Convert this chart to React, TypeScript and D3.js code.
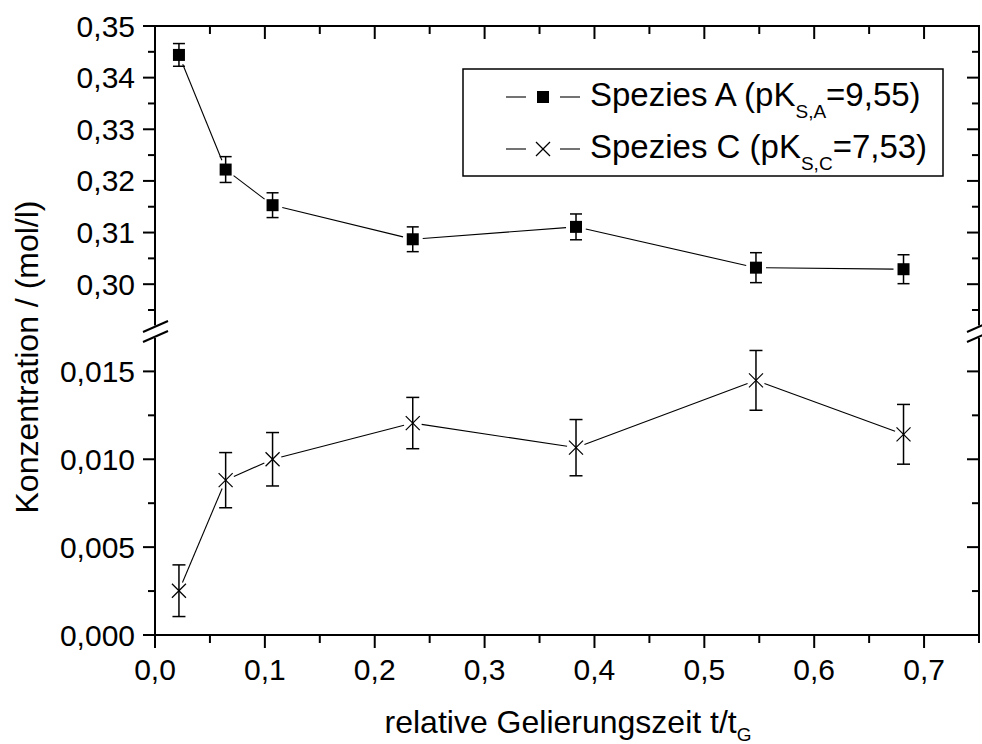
import React from "react";
import * as d3 from "d3";

const xVals = [0.0218, 0.0643, 0.107, 0.2346, 0.3832, 0.547, 0.6813];
const speciesA = [0.3444, 0.3222, 0.3153, 0.3087, 0.3111, 0.3032, 0.3029];
const errA = [0.0022, 0.0025, 0.0024, 0.0024, 0.0025, 0.0029, 0.0028];
const speciesC = [0.00252, 0.00881, 0.01, 0.01206, 0.01066, 0.01449, 0.01142];
const errC = [0.00147, 0.00157, 0.00152, 0.00146, 0.0016, 0.0017, 0.0017];

const xTicks = [0, 0.1, 0.2, 0.3, 0.4, 0.5, 0.6, 0.7];
const xMinor = [0.05, 0.15, 0.25, 0.35, 0.45, 0.55, 0.65, 0.75];
const yTopTicks = [0.3, 0.31, 0.32, 0.33, 0.34, 0.35];
const yTopMinor = [0.295, 0.305, 0.315, 0.325, 0.335, 0.345];
const yBotTicks = [0, 0.005, 0.01, 0.015];
const yBotMinor = [0.0025, 0.0075, 0.0125];

const FONT = "'Liberation Sans', Arial, sans-serif";

const L = 155, R = 979, T = 26, B = 635;
const TOP_LOW = 325.5, BOT_HIGH = 338;

export default function App() {
  const x = d3.scaleLinear().domain([0, 0.75]).range([L, R]);
  const yTop = d3.scaleLinear().domain([0.292, 0.35]).range([TOP_LOW, T]);
  const yBot = d3.scaleLinear().domain([0, 0.0169]).range([B, BOT_HIGH]);

  const fmt = (f: string) => (v: number) => d3.format(f)(v).replace(".", ",");

  const ptsA = xVals.map((v, i) => [x(v), yTop(speciesA[i])]);
  const ptsC = xVals.map((v, i) => [x(v), yBot(speciesC[i])]);

  const gapSegs = (pts: number[][], gap: number) =>
    pts.slice(1).map((p, i) => {
      const q = pts[i];
      const dx = p[0] - q[0], dy = p[1] - q[1];
      const len = Math.hypot(dx, dy);
      const ux = dx / len, uy = dy / len;
      return [q[0] + ux * gap, q[1] + uy * gap, p[0] - ux * gap, p[1] - uy * gap];
    });

  const segsA = gapSegs(ptsA, 10);
  const segsC = gapSegs(ptsC, 9);

  const axisStroke = 2;

  const breakMarks = (ax: number) => (
    <g stroke="#000" strokeWidth={2}>
      <line x1={ax - 12} y1={332} x2={ax + 13} y2={321} />
      <line x1={ax - 12} y1={342} x2={ax + 13} y2={331} />
    </g>
  );

  const xMarker = (cx: number, cy: number, s: number, key?: any) => (
    <g key={key} stroke="#000" strokeWidth={1.2}>
      <line x1={cx - s} y1={cy - s} x2={cx + s} y2={cy + s} />
      <line x1={cx - s} y1={cy + s} x2={cx + s} y2={cy - s} />
    </g>
  );

  return (
    <svg width={982} height={744} style={{ position: "absolute", left: 0, top: 0, background: "#fff" }} fontFamily={FONT}>
      <rect x={0} y={0} width={982} height={744} fill="#fff" />

      {/* axes frame */}
      <g stroke="#000" strokeWidth={axisStroke} fill="none">
        <line x1={L - 1} y1={T} x2={R + 1} y2={T} />
        <line x1={L - 1} y1={B} x2={R + 1} y2={B} />
        <line x1={L} y1={T} x2={L} y2={TOP_LOW} />
        <line x1={L} y1={BOT_HIGH} x2={L} y2={B} />
        <line x1={R} y1={T} x2={R} y2={TOP_LOW} />
        <line x1={R} y1={BOT_HIGH} x2={R} y2={B} />
      </g>
      {breakMarks(L)}
      {breakMarks(R)}

      {/* ticks */}
      <g stroke="#000" strokeWidth={2}>
        {xTicks.map((v) => (
          <g key={"xt" + v}>
            <line x1={x(v)} y1={B} x2={x(v)} y2={B + 13} />
            <line x1={x(v)} y1={T} x2={x(v)} y2={T + 13} />
          </g>
        ))}
        {xMinor.map((v) => (
          <g key={"xm" + v}>
            <line x1={x(v)} y1={B} x2={x(v)} y2={B + 8} />
            <line x1={x(v)} y1={T} x2={x(v)} y2={T + 8} />
          </g>
        ))}
        {yTopTicks.map((v) => (
          <g key={"yt" + v}>
            <line x1={L - 12} y1={yTop(v)} x2={L} y2={yTop(v)} />
            <line x1={R - 12} y1={yTop(v)} x2={R} y2={yTop(v)} />
          </g>
        ))}
        {yTopMinor.map((v) => (
          <g key={"ytm" + v}>
            <line x1={L - 7} y1={yTop(v)} x2={L} y2={yTop(v)} />
            <line x1={R - 7} y1={yTop(v)} x2={R} y2={yTop(v)} />
          </g>
        ))}
        {yBotTicks.map((v) => (
          <g key={"yb" + v}>
            <line x1={L - 12} y1={yBot(v)} x2={L} y2={yBot(v)} />
            <line x1={R - 12} y1={yBot(v)} x2={R} y2={yBot(v)} />
          </g>
        ))}
        {yBotMinor.map((v) => (
          <g key={"ybm" + v}>
            <line x1={L - 7} y1={yBot(v)} x2={L} y2={yBot(v)} />
            <line x1={R - 7} y1={yBot(v)} x2={R} y2={yBot(v)} />
          </g>
        ))}
      </g>

      {/* tick labels */}
      <g fontSize={30} fill="#000">
        {xTicks.map((v) => (
          <text key={"xl" + v} x={x(v)} y={680} textAnchor="middle">{fmt(".1f")(v)}</text>
        ))}
        {yTopTicks.map((v) => (
          <text key={"ytl" + v} x={135} y={yTop(v) + 10.5} textAnchor="end">{fmt(".2f")(v)}</text>
        ))}
        {yBotTicks.map((v) => (
          <text key={"ybl" + v} x={135} y={yBot(v) + 10.5} textAnchor="end">{fmt(".3f")(v)}</text>
        ))}
      </g>

      {/* axis titles */}
      <text x={568} y={733} fontSize={32} textAnchor="middle" fill="#000">
        relative Gelierungszeit t/t<tspan fontSize={19} dy={8}>G</tspan>
      </text>
      <text transform="translate(38,357) rotate(-90)" fontSize={32} textAnchor="middle" fill="#000">
        Konzentration / (mol/l)
      </text>

      {/* series A */}
      <g stroke="#000" strokeWidth={1.1}>
        {segsA.map((s, i) => (
          <line key={"sa" + i} x1={s[0]} y1={s[1]} x2={s[2]} y2={s[3]} />
        ))}
      </g>
      <g stroke="#000" strokeWidth={1.5}>
        {xVals.map((v, i) => {
          const cx = x(v);
          const y1 = yTop(speciesA[i] + errA[i]);
          const y2 = yTop(speciesA[i] - errA[i]);
          return (
            <g key={"ea" + i}>
              <line x1={cx} y1={y1} x2={cx} y2={y2} />
              <line x1={cx - 6} y1={y1} x2={cx + 6} y2={y1} />
              <line x1={cx - 6} y1={y2} x2={cx + 6} y2={y2} />
            </g>
          );
        })}
      </g>
      {ptsA.map((p, i) => (
        <rect key={"ma" + i} x={p[0] - 6} y={p[1] - 6} width={12} height={12} fill="#000" />
      ))}

      {/* series C */}
      <g stroke="#000" strokeWidth={1.1}>
        {segsC.map((s, i) => (
          <line key={"sc" + i} x1={s[0]} y1={s[1]} x2={s[2]} y2={s[3]} />
        ))}
      </g>
      <g stroke="#000" strokeWidth={1.5}>
        {xVals.map((v, i) => {
          const cx = x(v);
          const y1 = yBot(speciesC[i] + errC[i]);
          const y2 = yBot(speciesC[i] - errC[i]);
          return (
            <g key={"ec" + i}>
              <line x1={cx} y1={y1} x2={cx} y2={y2} />
              <line x1={cx - 6.5} y1={y1} x2={cx + 6.5} y2={y1} />
              <line x1={cx - 6.5} y1={y2} x2={cx + 6.5} y2={y2} />
            </g>
          );
        })}
      </g>
      {ptsC.map((p, i) => xMarker(p[0], p[1], 7, "mc" + i))}

      {/* legend */}
      <rect x={463} y={69} width={480} height={107} fill="#fff" stroke="#000" strokeWidth={1.5} />
      <g stroke="#000" strokeWidth={1.1}>
        <line x1={506} y1={97} x2={526} y2={97} />
        <line x1={560} y1={97} x2={580} y2={97} />
        <line x1={506} y1={149} x2={526} y2={149} />
        <line x1={560} y1={149} x2={580} y2={149} />
      </g>
      <rect x={537} y={91} width={12} height={12} fill="#000" />
      {xMarker(543, 149, 7, "lx")}
      <g fontSize={33} fill="#000">
        <text x={590} y={106}>
          Spezies A (pK<tspan fontSize={19} dy={12}>S,A</tspan><tspan dy={-12}>=9,55)</tspan>
        </text>
        <text x={590} y={158}>
          Spezies C (pK<tspan fontSize={19} dy={12}>S,C</tspan><tspan dy={-12}>=7,53)</tspan>
        </text>
      </g>
    </svg>
  );
}
